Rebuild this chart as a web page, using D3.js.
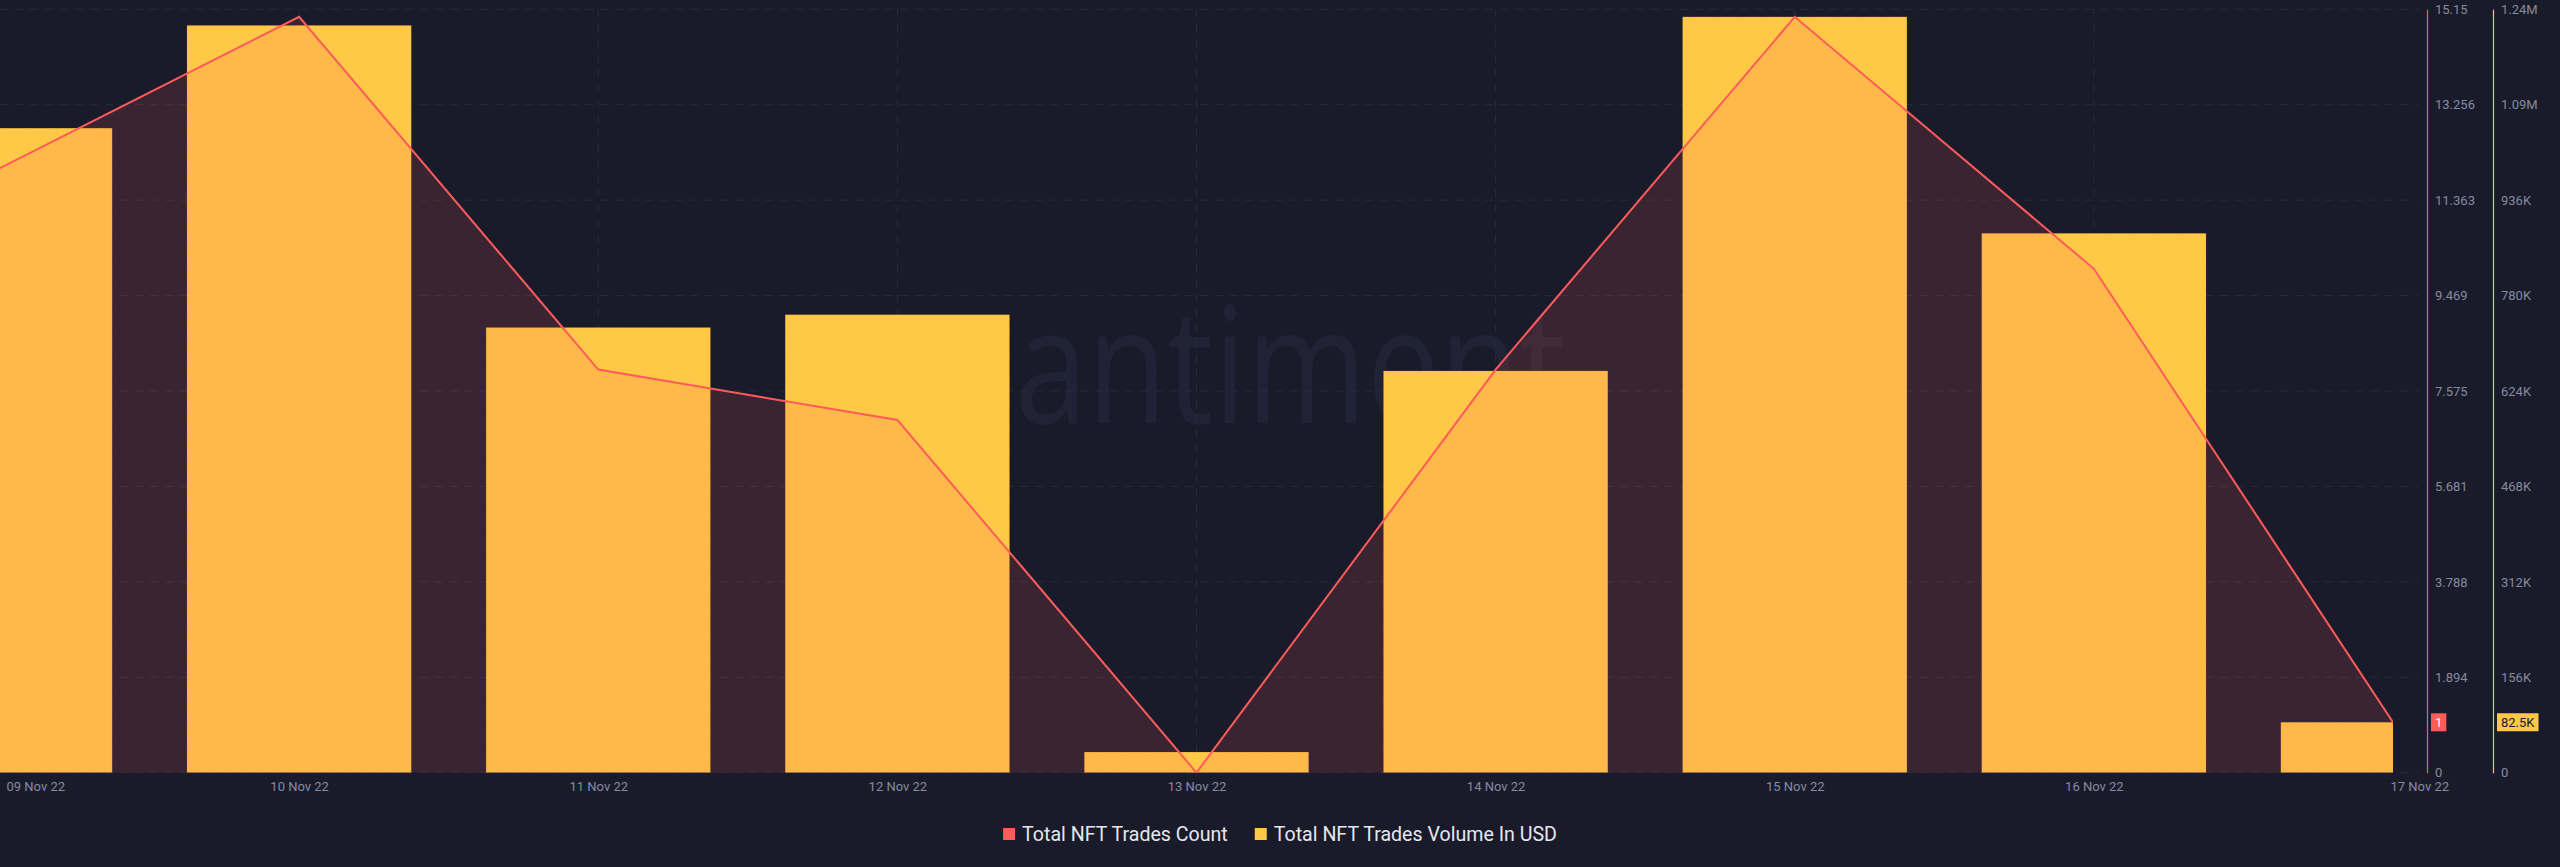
<!DOCTYPE html>
<html>
<head>
<meta charset="utf-8">
<script src="https://cdn.jsdelivr.net/npm/d3@7"></script>
<style>
body { margin: 0; background: #191b2b; }
svg { display: block; }
</style>
</head>
<body>
<div id="chart"></div>
<script>
const dates = ["09 Nov 22", "10 Nov 22", "11 Nov 22", "12 Nov 22", "13 Nov 22", "14 Nov 22", "15 Nov 22", "16 Nov 22", "17 Nov 22"];
const tradeCounts = [12, 15, 8, 7, 0, 8, 15, 10, 1];
const tradeVolumes = [1054000, 1222000, 728000, 749000, 33800, 657000, 1236000, 882000, 82500];
const countTickLabels = ["0", "1.894", "3.788", "5.681", "7.575", "9.469", "11.363", "13.256", "15.15"];
const volumeTickLabels = ["0", "156K", "312K", "468K", "624K", "780K", "936K", "1.09M", "1.24M"];
const legendNames = ["Total NFT Trades Count", "Total NFT Trades Volume In USD"];
const lastCountLabel = "1";
const lastVolumeLabel = "82.5K";

const width = 2560, height = 867;
const plot = {left: 0, right: 2393, top: 9.3, bottom: 772.7};
const countAxisX = 2427, volumeAxisX = 2493;
const bg = "#191b2b", red = "#ff5b5b", yellow = "#ffc847", tickGrey = "#868a9f", gridColor = "#282b3c";
const font = "Roboto, 'Liberation Sans', sans-serif";

const svg = d3.select("#chart").append("svg")
    .attr("width", width)
    .attr("height", height)
    .attr("viewBox", [0, 0, width, height]);

svg.append("rect").attr("width", width).attr("height", height).attr("fill", bg);

const x = d3.scalePoint()
    .domain(dates)
    .range([plot.left, plot.right]);

const countMax = d3.max(tradeCounts) * 1.01;
const volumeMax = d3.max(tradeVolumes) * 1.01;

const yCount = d3.scaleLinear().domain([0, countMax]).range([plot.bottom, plot.top]);
const yVolume = d3.scaleLinear().domain([0, volumeMax]).range([plot.bottom, plot.top]);

const countTicks = d3.range(countTickLabels.length).map(i => countMax * i / (countTickLabels.length - 1));
const volumeTicks = d3.range(volumeTickLabels.length).map(i => volumeMax * i / (volumeTickLabels.length - 1));

svg.append("defs").append("clipPath")
    .attr("id", "plot-clip")
    .append("rect")
    .attr("x", plot.left)
    .attr("y", 0)
    .attr("width", plot.right - plot.left)
    .attr("height", plot.bottom);

// watermark
svg.append("text")
    .attr("x", 953)
    .attr("y", 423)
    .attr("textLength", 613)
    .attr("lengthAdjust", "spacingAndGlyphs")
    .attr("font-family", "'Open Sans', sans-serif")
    .attr("font-weight", 400)
    .attr("font-size", 162)
    .attr("fill", "#202336")
    .text("santiment");

// grid
const grid = svg.append("g").attr("stroke", gridColor).attr("stroke-dasharray", "8,7");
grid.selectAll("line.h")
    .data(countTicks)
    .join("line")
    .attr("class", "h")
    .attr("x1", plot.left)
    .attr("x2", countAxisX - 9)
    .attr("y1", d => yCount(d))
    .attr("y2", d => yCount(d));
grid.selectAll("line.v")
    .data(dates.slice(1, -1))
    .join("line")
    .attr("class", "v")
    .attr("x1", d => x(d))
    .attr("x2", d => x(d))
    .attr("y1", plot.top)
    .attr("y2", plot.bottom);

const plotG = svg.append("g").attr("clip-path", "url(#plot-clip)");
const barWidth = x.step() * 0.75;

plotG.append("g")
    .selectAll("rect")
    .data(tradeVolumes)
    .join("rect")
    .attr("x", (d, i) => x(dates[i]) - barWidth / 2)
    .attr("y", d => yVolume(d))
    .attr("width", barWidth)
    .attr("height", d => yVolume(0) - yVolume(d))
    .attr("fill", yellow)
    .attr("stroke", "rgba(120,80,20,0.35)")
    .attr("stroke-width", 1)
    .attr("stroke-dasharray", "1,2");

const area = d3.area()
    .x((d, i) => x(dates[i]))
    .y0(yCount(0))
    .y1(d => yCount(d));

const line = d3.line()
    .x((d, i) => x(dates[i]))
    .y(d => yCount(d));

plotG.append("path")
    .datum(tradeCounts)
    .attr("d", area)
    .attr("fill", red)
    .attr("fill-opacity", 0.15);

plotG.append("path")
    .datum(tradeCounts)
    .attr("d", line)
    .attr("fill", "none")
    .attr("stroke", red)
    .attr("stroke-width", 2)
    .attr("stroke-linejoin", "miter");

// x axis
const xAxisG = svg.append("g")
    .attr("transform", "translate(0," + plot.bottom + ")")
    .call(d3.axisBottom(x).tickSize(0).tickPadding(9));
xAxisG.select(".domain").remove();
xAxisG.selectAll("text")
    .attr("font-family", font)
    .attr("font-size", 13)
    .attr("fill", tickGrey);
xAxisG.selectAll(".tick").filter((d, i) => i === 0).select("text")
    .attr("text-anchor", "start").attr("x", 6);
xAxisG.selectAll(".tick").filter((d, i) => i === dates.length - 1).select("text")
    .attr("text-anchor", "start").attr("x", -3);

// y axes
function yAxis(g, scale, ticks, labels, color) {
    g.call(d3.axisRight(scale)
        .tickValues(ticks)
        .tickFormat((d, i) => labels[i])
        .tickSize(0)
        .tickSizeOuter(0)
        .tickPadding(8));
    g.select(".domain").attr("stroke", color).attr("stroke-width", 1.2);
    g.selectAll("text")
        .attr("font-family", font)
        .attr("font-size", 13)
        .attr("fill", tickGrey);
}

svg.append("g")
    .attr("transform", "translate(" + countAxisX + ",0)")
    .call(yAxis, yCount, countTicks, countTickLabels, red);

svg.append("g")
    .attr("transform", "translate(" + volumeAxisX + ",0)")
    .call(yAxis, yVolume, volumeTicks, volumeTickLabels, yellow);

// last value badges
function badge(axisX, yPos, label, fill, textColor) {
    const g = svg.append("g").attr("transform", "translate(" + (axisX + 4) + "," + yPos + ")");
    const rect = g.append("rect").attr("y", -9).attr("height", 18).attr("fill", fill);
    const t = g.append("text")
        .attr("x", 4)
        .attr("y", 4.6)
        .attr("font-family", font)
        .attr("font-size", 13)
        .attr("fill", textColor)
        .text(label);
    rect.attr("width", t.node().getComputedTextLength() + 8);
}
badge(countAxisX, yCount(tradeCounts[tradeCounts.length - 1]), lastCountLabel, red, "#ffffff");
badge(volumeAxisX, yVolume(tradeVolumes[tradeVolumes.length - 1]), lastVolumeLabel, yellow, "#1a1c2c");

// legend
const legendColors = [red, yellow];
const legend = svg.append("g");
let lx = 0;
legendNames.forEach((name, i) => {
    const item = legend.append("g").attr("transform", "translate(" + lx + ",0)");
    item.append("rect")
        .attr("y", -6).attr("width", 12).attr("height", 12)
        .attr("fill", legendColors[i]);
    const t = item.append("text")
        .attr("x", 19)
        .attr("y", 7)
        .attr("font-family", font)
        .attr("font-size", 19.6)
        .attr("fill", "#e6e7ee")
        .text(name);
    lx += 19 + t.node().getComputedTextLength() + 27;
});
const legendWidth = lx - 27;
legend.attr("transform", "translate(" + (width / 2 - legendWidth / 2) + ",834)");
</script>
</body>
</html>
